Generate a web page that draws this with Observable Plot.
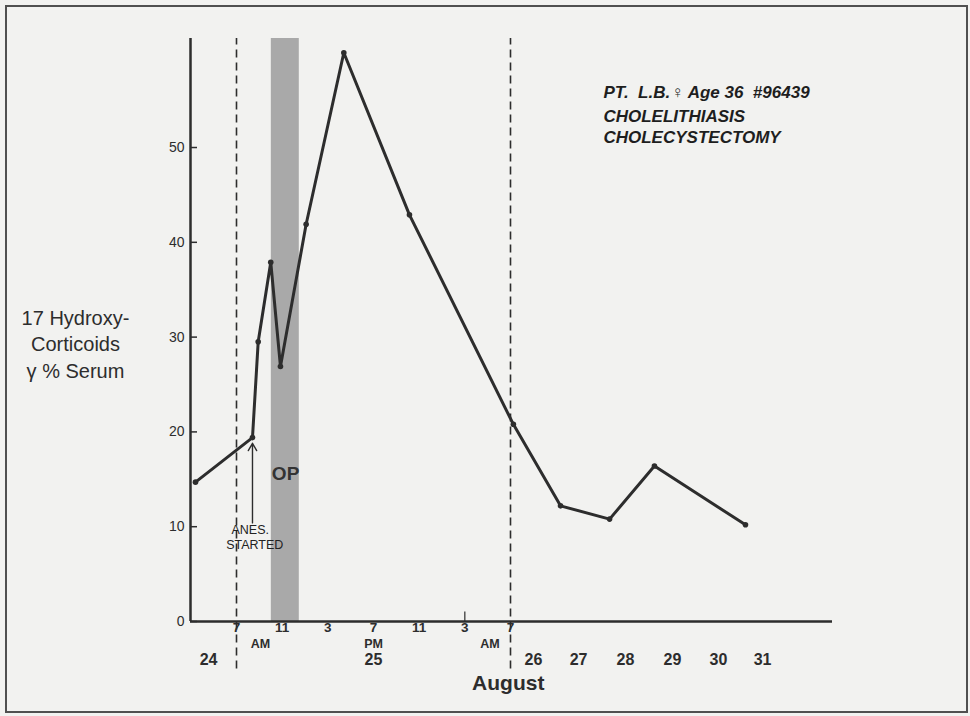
<!DOCTYPE html>
<html>
<head>
<meta charset="utf-8">
<script src="https://cdn.jsdelivr.net/npm/d3@7"></script>
<script src="https://cdn.jsdelivr.net/npm/@observablehq/plot@0.6"></script>
<style>
  html, body { margin: 0; padding: 0; background: #ffffff; }
  #wrap { position: relative; width: 970px; height: 716px; background: #f2f2f0; overflow: hidden; }
  #frame { position: absolute; left: 5px; top: 5px; width: 959px; height: 704px; border: 2.5px solid #505050; pointer-events: none; }
  svg { font-family: "Liberation Sans", Arial, sans-serif; }
</style>
</head>
<body>
<div id="wrap"><div id="frame"></div></div>
<script>
// ---- data (hours counted from Aug 24, 00:00) ----
const sampleHours = [9.6, 32.4, 32.9, 34.0, 34.85, 37.1, 40.4, 46.15, 56.5, 81.1, 106.7, 130.1, 177.6];
const hydroxyValues = [14.7, 19.4, 29.5, 37.9, 26.9, 41.9, 60.0, 42.9, 20.8, 12.2, 10.8, 16.4, 10.2];

const yTicks = [0, 10, 20, 30, 40, 50];

const hourTickHours = [31, 35, 39, 43, 47, 51, 55];
const hourTickLabels = ["7", "11", "3", "7", "11", "3", "7"];

const meridiemHours = [33.1, 43, 53.2];
const meridiemLabels = ["AM", "PM", "AM"];

const dayLabelHours = [16.4, 43, 67, 90.5, 115, 139.5, 163.5, 186.5];
const dayLabels = ["24", "25", "26", "27", "28", "29", "30", "31"];

const dashedHours = [31, 55];           // 7 AM Aug 25, 7 AM Aug 26
const opStart = 34.05, opEnd = 36.5;    // operation period
const anesHour = 32.4;

// piecewise time axis: compressed days before 7 AM Aug 25 and after 7 AM Aug 26
const xBreaks = [7, 31, 55, 223];
const xBreakPx = [190, 236, 510, 832];

const patientLines = ["PT.\u00a0\u00a0L.B.♀\u00a0Age\u00a036\u00a0\u00a0#96439", "CHOLELITHIASIS", "CHOLECYSTECTOMY"];
const patientY = [55.8, 53.3, 51.0];
const yLabelLines = ["17 Hydroxy-", "Corticoids", "γ % Serum"];

const points = sampleHours.map((t, i) => ({t, v: hydroxyValues[i]}));
const ink = "#2d2d2d";

const chart = Plot.plot({
  width: 970,
  height: 716,
  marginLeft: 190,
  marginRight: 138,
  marginTop: 38,
  marginBottom: 95,
  style: {background: "transparent", color: ink, fontFamily: "'Liberation Sans', Arial, sans-serif"},
  x: {type: "linear", domain: xBreaks, range: xBreakPx, axis: null, label: null},
  y: {domain: [0, 61.5], axis: null, label: null},
  marks: [
    // operation band
    Plot.rect([{a: opStart, b: opEnd}], {x1: "a", x2: "b", y1: 0, y2: 61.5, fill: "#a9a9a9"}),
    // dashed reference lines
    Plot.ruleX(dashedHours, {y1: -5, y2: 61.5, stroke: ink, strokeWidth: 1.6, strokeDasharray: "8,5"}),
    // axes lines
    Plot.ruleX([xBreaks[0]], {y1: 0, y2: 61.5, stroke: ink, strokeWidth: 2.5}),
    Plot.ruleY([0], {x1: xBreaks[0], x2: xBreaks[3], stroke: ink, strokeWidth: 2.5}),
    // y ticks (pointing inward) and labels
    Plot.axisY(yTicks, {anchor: "left", tickSize: 7, dx: 7, tickFormat: () => "", label: null, stroke: ink, strokeWidth: 1.5}),
    Plot.axisY(yTicks, {anchor: "left", tickSize: 0, tickPadding: 6, label: null, fontSize: 14, fill: ink}),
    // small tick at 3 AM
    Plot.ruleX([51], {y1: 0, y2: 1, stroke: ink, strokeWidth: 1.2}),
    // hour tick labels
    Plot.text(hourTickHours, {x: d => d, text: (d, i) => hourTickLabels[i], frameAnchor: "bottom", dy: 10, fontSize: 13.5, fontWeight: "bold", fill: ink}),
    Plot.text(meridiemHours, {x: d => d, text: (d, i) => meridiemLabels[i], frameAnchor: "bottom", dy: 26, fontSize: 12.5, fontWeight: "bold", fill: ink}),
    Plot.text(dayLabelHours, {x: d => d, text: (d, i) => dayLabels[i], frameAnchor: "bottom", dy: 43, fontSize: 16, fontWeight: "bold", fill: ink}),
    Plot.text(["August"], {x: 54.8, frameAnchor: "bottom", dy: 68, fontSize: 21, fontWeight: "bold", fill: ink}),
    // y label
    Plot.text([yLabelLines.join("\n")], {frameAnchor: "left", y: 29.4, dx: -115, lineHeight: 1.33, fontSize: 20, fill: ink, textAnchor: "middle"}),
    // data line and points
    Plot.line(points, {x: "t", y: "v", stroke: ink, strokeWidth: 3}),
    Plot.dot(points, {x: "t", y: "v", r: 2.8, fill: ink}),
    // annotations
    Plot.arrow([{x: anesHour}], {x1: "x", x2: "x", y1: 10.4, y2: 18.8, stroke: ink, strokeWidth: 1.4, headLength: 9}),
    Plot.text(["ANES."], {x: 32.2, y: 9.6, fontSize: 12.5, fill: "#222"}),
    Plot.text(["STARTED"], {x: 32.6, y: 8.1, fontSize: 12.5, fill: "#222"}),
    Plot.text(["OP"], {x: 35.3, y: 15.6, fontSize: 19, fontWeight: "bold", fill: "#333"}),
    Plot.text(patientLines, {x: 103.5, y: (d, i) => patientY[i], textAnchor: "start", fontSize: 17, fontWeight: "bold", fontStyle: "italic", fill: "#1e1e1e"})
  ]
});
document.getElementById("wrap").insertBefore(chart, document.getElementById("frame"));
</script>
</body>
</html>
